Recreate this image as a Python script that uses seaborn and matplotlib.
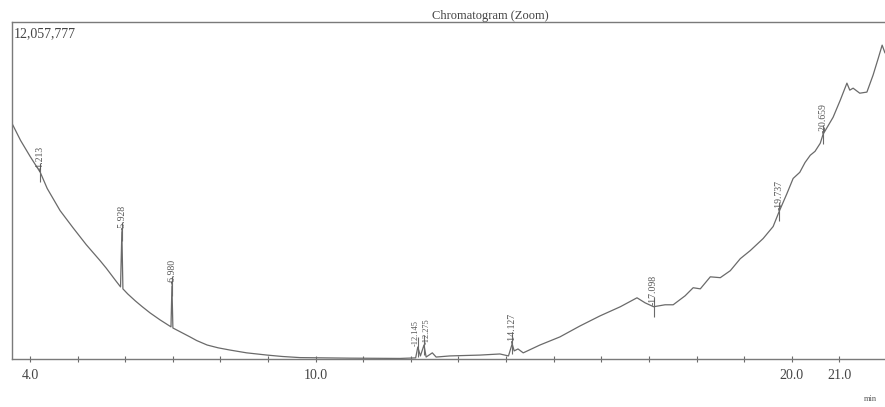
import matplotlib
matplotlib.use("Agg")
import matplotlib.pyplot as plt
import seaborn as sns
import pandas as pd

# retention time (min) and detector signal (millions of counts)
times = [3.62, 3.80, 4.00, 4.213, 4.36, 4.63, 4.90, 5.18, 5.47, 5.60,
         5.72, 5.80, 5.90, 5.928, 5.95, 6.05, 6.21, 6.35, 6.52, 6.73,
         6.85, 6.96, 6.980, 7.00, 7.18, 7.36, 7.50, 7.72, 7.95, 8.20,
         8.55, 8.98, 9.30, 9.67, 10.72, 11.77, 12.10, 12.145, 12.20, 12.275,
         12.32, 12.45, 12.53, 12.82, 13.45, 13.87, 14.05, 14.127, 14.17, 14.25,
         14.36, 14.71, 15.13, 15.55, 15.97, 16.40, 16.75, 16.92, 17.098, 17.34,
         17.51, 17.76, 17.93, 18.08, 18.29, 18.50, 18.71, 18.92, 19.13, 19.40,
         19.61, 19.737, 19.90, 20.03, 20.17, 20.28, 20.39, 20.49, 20.60, 20.659,
         20.87, 21.02, 21.16, 21.22, 21.29, 21.43, 21.58, 21.71, 21.82, 21.90,
         21.96]
signal = [8.43, 7.82, 7.25, 6.68, 6.10, 5.31, 4.70, 4.09, 3.52, 3.25,
          2.98, 2.80, 2.58, 4.56, 2.51, 2.33, 2.08, 1.88, 1.65, 1.40,
          1.27, 1.15, 2.62, 1.11, 0.95, 0.79, 0.66, 0.50, 0.40, 0.32,
          0.22, 0.14, 0.09, 0.05, 0.03, 0.02, 0.04, 0.43, 0.11, 0.50,
          0.07, 0.22, 0.07, 0.11, 0.14, 0.18, 0.11, 0.54, 0.29, 0.36,
          0.22, 0.50, 0.79, 1.18, 1.54, 1.87, 2.19, 2.01, 1.87, 1.94,
          1.94, 2.26, 2.55, 2.51, 2.94, 2.91, 3.16, 3.59, 3.88, 4.31,
          4.74, 5.28, 5.92, 6.46, 6.68, 7.03, 7.29, 7.43, 7.72, 8.04,
          8.65, 9.26, 9.87, 9.62, 9.69, 9.51, 9.55, 10.16, 10.77, 11.23,
          10.95]

# labelled peaks
peak_rt = [4.213, 5.928, 6.980, 12.145, 12.275, 14.127, 17.098, 19.737, 20.659]
peak_labels = ["4.213", "5.928", "6.980", "12.145", "12.275", "14.127", "17.098", "19.737", "20.659"]
label_nudge = [0, 0, 0, -0.05, 0.05, 0, 0, 0, 0]

tick_pos = [4.0, 10.0, 20.0, 21.0]
tick_text = ["4.0", "10.0", "20.0", "21.0"]
full_scale = 12.057777  # millions

df = pd.DataFrame({"time": times, "signal": signal})

sns.set_theme(style="white")
plt.rcParams['font.family'] = ['Liberation Serif', 'DejaVu Serif']

fig = plt.figure(figsize=(8.85, 4.07), dpi=100)
ax = fig.add_axes([12 / 885, 1 - 359 / 407, 873 / 885, 337 / 407])

ink = "#6a6a6a"
sns.lineplot(data=df, x="time", y="signal", ax=ax, color=ink, linewidth=0.9)

# peak markers and rotated retention time labels
sig_at = dict(zip(times, signal))
for rt, lab, dx in zip(peak_rt, peak_labels, label_nudge):
    y = sig_at[rt]
    ax.vlines(rt, y - 0.35, y + 0.35, color=ink, linewidth=0.8)
    size = 6 if dx else 7
    ax.text(rt + dx, y + 0.05, "-" + lab, rotation=90, ha="center", va="bottom",
            fontsize=size, color="#555555")

ax.set_xlim(3.62, 21.96)
ax.set_ylim(0, full_scale)
ax.set_xlabel("")
ax.set_ylabel("")
ax.set_yticks([])
ax.set_xticks(tick_pos)
ax.set_xticklabels(tick_text)
ax.set_xticks(range(4, 22), minor=True)
ax.tick_params(axis="x", which="both", direction="inout", length=4, width=0.8,
               color=ink, labelsize=10, labelcolor="#444444", pad=5, bottom=True)

for side in ["left", "bottom", "top"]:
    ax.spines[side].set_color("#7a7a7a")
    ax.spines[side].set_linewidth(1.0)
ax.spines["right"].set_visible(False)

ax.text(0.002, 0.985, "12,057,777", transform=ax.transAxes, ha="left", va="top",
        fontsize=10, color="#444444")
fig.text(490 / 885, 1 - 16 / 407, "Chromatogram (Zoom)", ha="center", va="center",
         fontsize=9, color="#444444")
fig.text(870 / 885, 1 - 399 / 407, "min", ha="center", va="center",
         fontsize=6, color="#555555")

fig.savefig("out.png", dpi=100, facecolor="white")
